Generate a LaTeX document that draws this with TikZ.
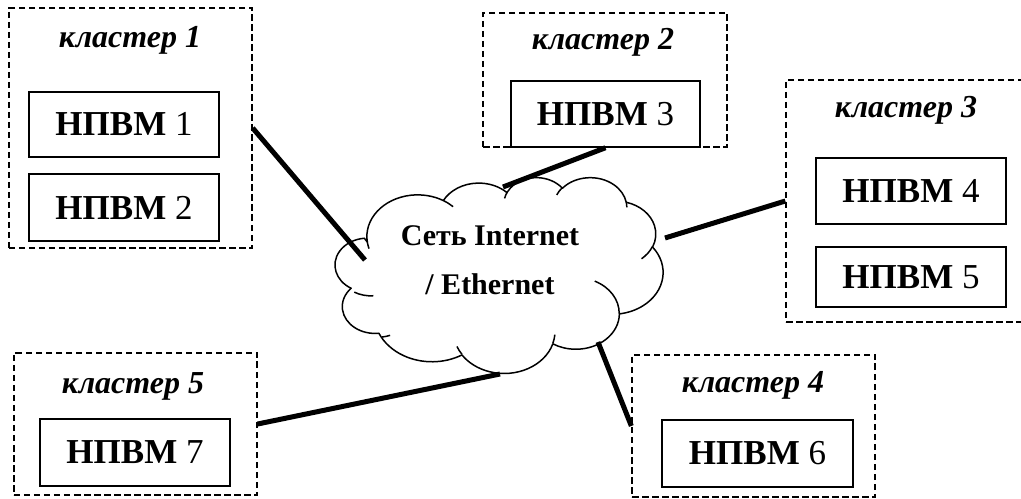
\documentclass[tikz,border=0pt]{standalone}
\usepackage{fontspec}
\setmainfont{Liberation Serif}
\begin{document}
\begin{tikzpicture}[x=1bp,y=-1bp,
  cluster/.style={draw, dash pattern=on 6.5bp off 3.5bp, line width=1.3bp, inner sep=0pt},
  clabel/.style={font=\fontsize{32bp}{36bp}\selectfont\bfseries\itshape, anchor=base, inner sep=0pt},
  unit/.style={draw, line width=1.5bp, inner sep=0pt, font=\fontsize{35bp}{40bp}\selectfont},
  link/.style={line width=5bp},
  cloudline/.style={line width=1.5bp, line join=round}]
\useasboundingbox (0,0) rectangle (1021,499);

% clusters (dashed frames)
\node[cluster, minimum width=243bp, minimum height=240bp] (c1) at (130.5,128) {};
\node[cluster, minimum width=244bp, minimum height=134bp] (c2) at (605,80) {};
\node[cluster, minimum width=238bp, minimum height=242bp] (c3) at (905,201) {};
\node[cluster, minimum width=243bp, minimum height=142bp] (c4) at (753.5,426) {};
\node[cluster, minimum width=243bp, minimum height=142bp] (c5) at (135.5,424) {};

\node[clabel] (l1) at (130,48) {кластер 1};
\node[clabel] (l2) at (603,50) {кластер 2};
\node[clabel] (l3) at (906,118) {кластер 3};
\node[clabel] (l4) at (753,392) {кластер 4};
\node[clabel] (l5) at (133,393) {кластер 5};

% computing nodes
\node[unit, minimum width=190bp, minimum height=65bp] (b1) at (124,124.5) {\textbf{НПВМ} 1};
\node[unit, minimum width=190bp, minimum height=67bp] (b2) at (124,207.5) {\textbf{НПВМ} 2};
\node[unit, minimum width=189bp, minimum height=66bp] (b3) at (605.5,114) {\textbf{НПВМ} 3};
\node[unit, minimum width=190bp, minimum height=66bp] (b4) at (911,191) {\textbf{НПВМ} 4};
\node[unit, minimum width=190bp, minimum height=60bp] (b5) at (911,277) {\textbf{НПВМ} 5};
\node[unit, minimum width=191bp, minimum height=67bp] (b6) at (757.5,453.5) {\textbf{НПВМ} 6};
\node[unit, minimum width=190bp, minimum height=67bp] (b7) at (135,452.5) {\textbf{НПВМ} 7};

% cloud outline: elliptic arcs in a 43200 x 43200 frame placed at (338,177), size 325 x 196
\def\cloudsx{0.00752315}\def\cloudsy{0.00453704}
\def\cloudpath{}
\foreach \w/\h/\s/\d in {6753/9190/-190.48748/123.78053, 5333/7267/-144.10238/89.94523,
    4365/5945/-145.80792/99.72302, 4857/6595/-130.98607/117.24173,
    5333/7273/-78.70888/109.02692, 6775/9220/-46.26725/130.269,
    5785/7867/0.62502/114.03333, 6752/9215/22.4516/115.17255,
    7720/10543/66.24263/82.73077, 4360/5918/-274.94208/146.73557,
    4345/5945/-246.8285/152.51885}{%
  \pgfmathsetmacro\ta{atan2(\w*sin(\s), \h*cos(\s))}%
  \pgfmathsetmacro\tb{atan2(\w*sin(\s+\d), \h*cos(\s+\d))}%
  \pgfmathsetmacro\dt{\d>0 ? mod(\tb-\ta+720,360) : -mod(\ta-\tb+720,360)}%
  \pgfmathsetmacro\rx{\w*\cloudsx}%
  \pgfmathsetmacro\ry{\h*\cloudsy}%
  \xdef\cloudpath{\cloudpath arc[start angle=\ta, delta angle=\dt, x radius=\rx, y radius=\ry]}%
}
% inner puff edges (start points given in tenths of the frame units)
\def\stubpath{}
\foreach \X/\Y/\w/\h/\s/\d in {469.3/2617.7/4345/5945/86.742/26.4295,
    692.8/3489.9/4360/5918/73.61047/11.44747,
    1647.8/3909.0/6752/9215/137.62415/14.0811,
    2882.7/3475.1/6752/9215/6.45327/15.99835,
    3412.9/2295.4/5785/7867/-70.29235/70.91737,
    4179.8/1535.4/5333/7273/30.31803/27.7515,
    3832.4/542.6/4857/6595/-13.74433/14.85458,
    2907.8/395.2/4857/6595/-149.18145/18.1842,
    2214.1/472.0/4365/5945/-163.49427/17.69422,
    1400.0/519.2/6753/9190/-66.70695/12.31935,
    412.7/1578.9/6753/9190/157.65435/11.85817}{%
  \pgfmathsetmacro\px{338+\X*0.0752315}%
  \pgfmathsetmacro\py{177+\Y*0.0453704}%
  \pgfmathsetmacro\ta{atan2(\w*sin(\s), \h*cos(\s))}%
  \pgfmathsetmacro\tb{atan2(\w*sin(\s+\d), \h*cos(\s+\d))}%
  \pgfmathsetmacro\dt{\d>0 ? mod(\tb-\ta+720,360) : -mod(\ta-\tb+720,360)}%
  \pgfmathsetmacro\rx{\w*\cloudsx}%
  \pgfmathsetmacro\ry{\h*\cloudsy}%
  \xdef\stubpath{\stubpath (\px,\py) arc[start angle=\ta, delta angle=\dt, x radius=\rx, y radius=\ry]}%
}
\pgfmathsetmacro\cx{338+3900*\cloudsx}
\pgfmathsetmacro\cy{177+14370*\cloudsy}
\edef\drawcloud{\noexpand\path[cloudline, draw=black, fill=white] (\cx,\cy) \cloudpath -- cycle;
  \noexpand\path[cloudline, draw=black] \stubpath;}
\drawcloud

\node[font=\fontsize{30bp}{49bp}\selectfont\bfseries, align=center, inner sep=0pt] (net) at (490,260)
  {Сеть Internet\\/ Ethernet};

% contact points on the cloud
\coordinate (n1) at (365,260);
\coordinate (n2) at (503,187);
\coordinate (n3) at (665,238);
\coordinate (n4) at (598,342);
\coordinate (n5) at (500,374);

% links
\draw[link] (c1.east) -- (n1);
\draw[link] (n2) -- (b3.south);
\draw[link] (n3) -- (c3.west);
\draw[link] (n4) -- (c4.west);
\draw[link] (n5) -- (c5.east);
\end{tikzpicture}
\end{document}
